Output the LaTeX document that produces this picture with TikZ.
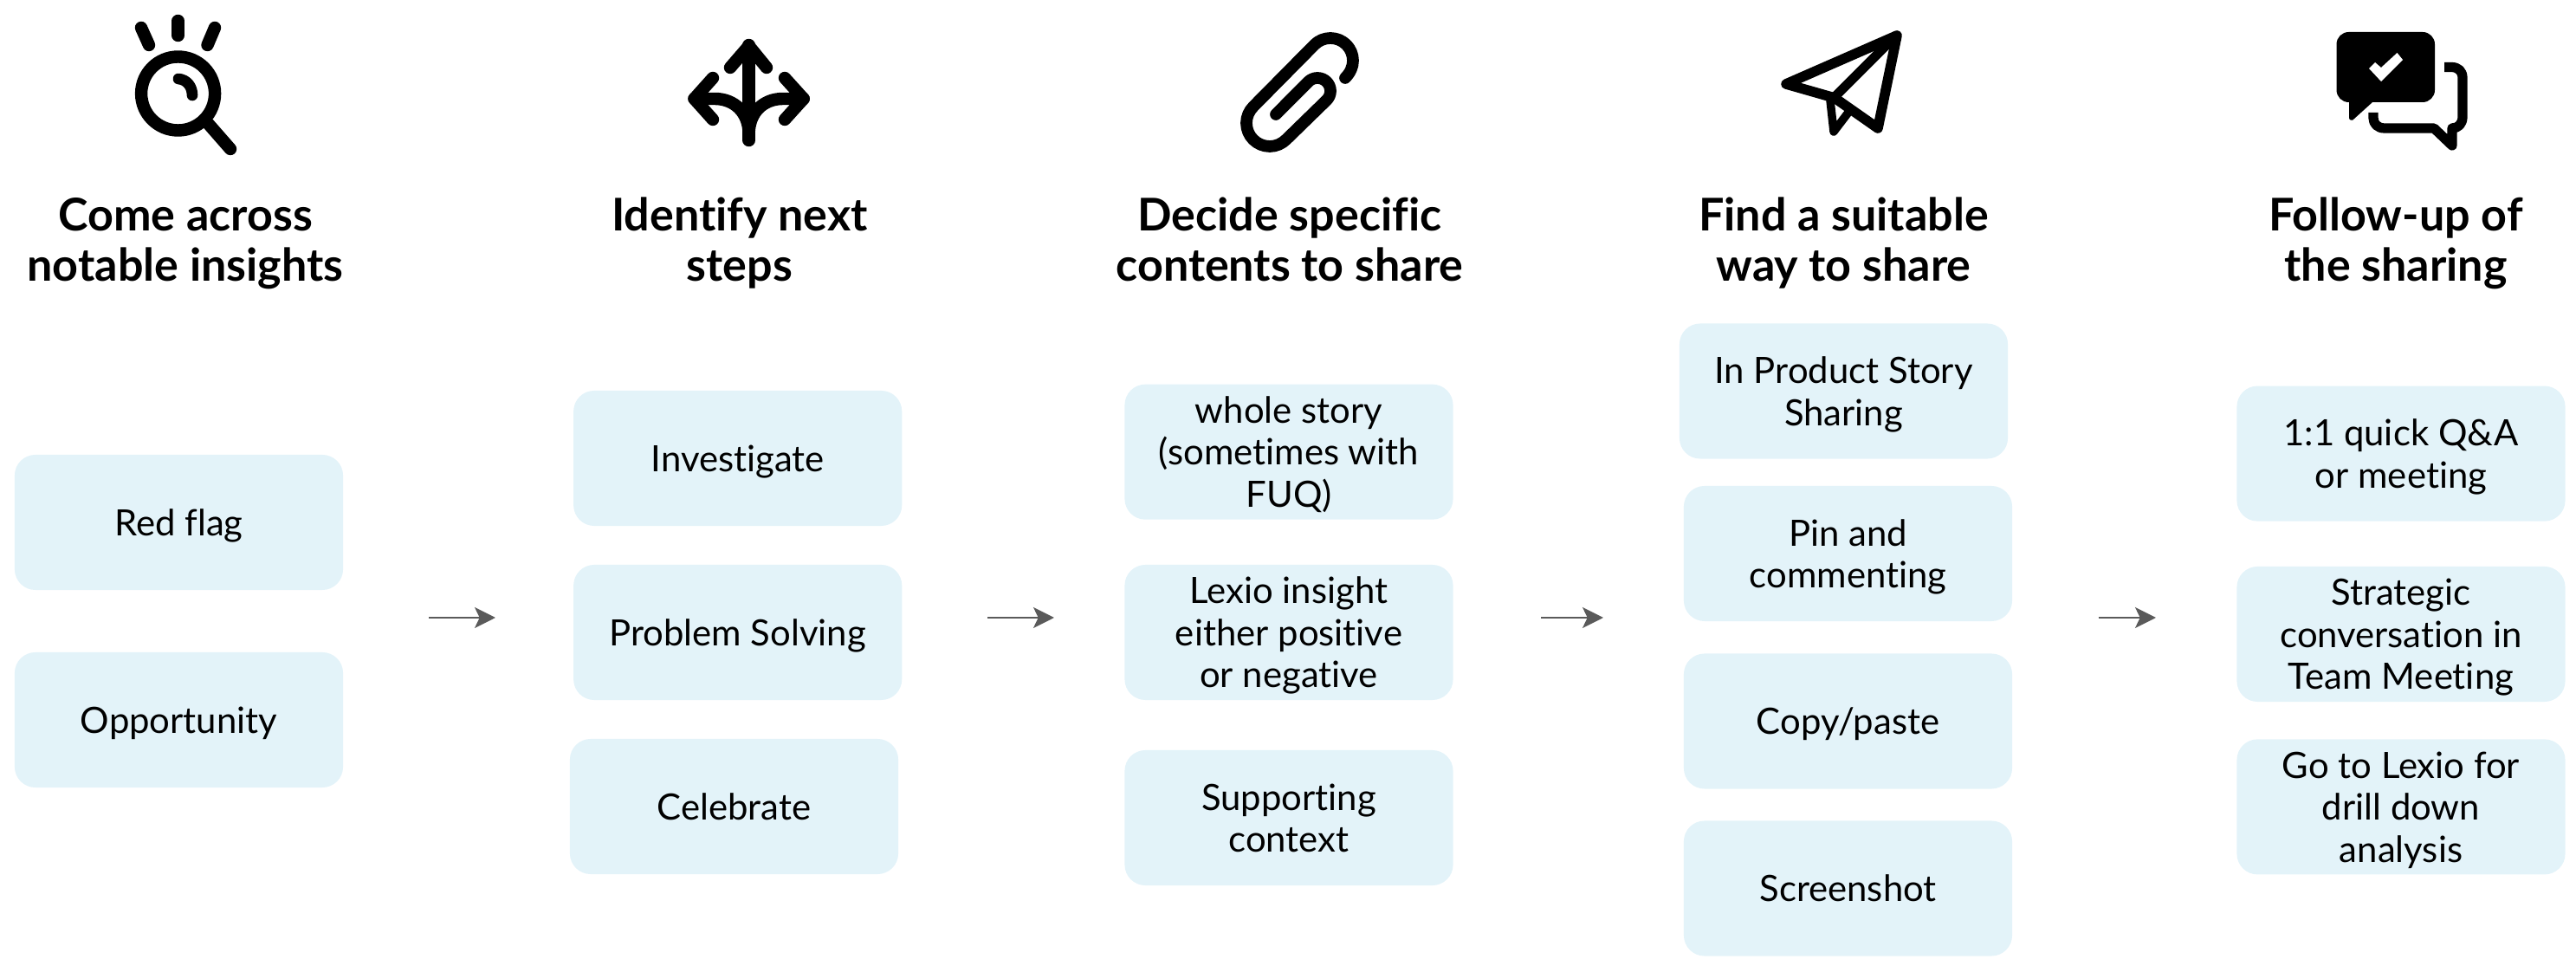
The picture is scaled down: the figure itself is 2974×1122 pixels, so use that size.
\documentclass[tikz,border=0pt]{standalone}
\usepackage{fontspec}
\setmainfont{Lato}[Ligatures=NoCommon]
\usetikzlibrary{arrows.meta}
\definecolor{boxblue}{HTML}{E3F3F9}
\definecolor{arrowgray}{HTML}{5A5A5A}
\tikzset{
  card/.style={fill=boxblue,rounded corners=6.8pt,minimum width=379*0.2845pt,minimum height=156*0.2845pt,inner sep=0pt,align=center,text=black,font=\fontsize{11.9}{13.75}\selectfont,text height=11.8pt,text depth=3pt},
  twolines/.style={text height=26.5pt,text depth=4pt},
  threelines/.style={text height=40.2pt,text depth=4pt},
  heading/.style={align=center,inner sep=0pt,text=black,font=\fontsize{14.8}{16.6}\selectfont\bfseries,text height=32pt,text depth=5pt},
  flow/.style={draw=arrowgray,line width=0.85pt,-{Stealth[length=6.8pt,width=6.8pt,inset=1.6pt]}},
  ink/.style={draw=black,line cap=round,line join=round,line width=4.1pt},
}
\begin{document}
\begin{tikzpicture}[x=0.01cm,y=-0.01cm]
\useasboundingbox (0,0) rectangle (2974,1122);
% headings
\node[heading] (h1) at (214,277) {Come across\\notable insights};
\node[heading] (h2) at (854,277) {Identify next\\steps};
\node[heading] (h3) at (1489,277) {Decide specific\\contents to share};
\node[heading] (h4) at (2128.5,277) {Find a suitable\\way to share};
\node[heading] (h5) at (2766,277) {Follow-up of\\the sharing};
% cards
\node[card] (a1) at (206.5,603) {Red flag};
\node[card] (a2) at (206.5,831) {Opportunity};
\node[card] (b1) at (851.7,529) {Investigate};
\node[card] (b2) at (851.7,730) {Problem Solving};
\node[card] (b3) at (847.5,931) {Celebrate};
\node[card,threelines] (c1) at (1488,521.7) {whole story\\(sometimes with\\FUQ)};
\node[card,threelines] (c2) at (1488,730) {Lexio insight\\either positive\\or negative};
\node[card,twolines] (c3) at (1488,944) {Supporting\\context};
\node[card,twolines] (d1) at (2128.5,451.5) {In Product Story\\Sharing};
\node[card,twolines] (d2) at (2133.5,639) {Pin and\\commenting};
\node[card] (d3) at (2133.5,832.5) {Copy/paste};
\node[card] (d4) at (2133.5,1025.5) {Screenshot};
\node[card,twolines] (e1) at (2772,523.6) {1:1 quick Q\&A\\or meeting};
\node[card,threelines] (e2) at (2772,732) {Strategic\\conversation in\\Team Meeting};
\node[card,threelines] (e3) at (2772,931.4) {Go to Lexio for\\drill down\\analysis};
% arrows
\coordinate (f1s) at (495,713); \coordinate (f1e) at (572,713);
\coordinate (f2s) at (1140,713); \coordinate (f2e) at (1217,713);
\coordinate (f3s) at (1779,713); \coordinate (f3e) at (1851,713);
\coordinate (f4s) at (2422.5,713); \coordinate (f4e) at (2489,713);
\draw[flow] (f1s) -- (f1e);
\draw[flow] (f2s) -- (f2e);
\draw[flow] (f3s) -- (f3e);
\draw[flow] (f4s) -- (f4e);
% icon 1: magnifier
\draw[ink] (205.6,108) circle [radius=42.5];
\draw[ink,line width=3.6pt] (206,91) .. controls (216,92) and (222,100) .. (222,110);
\draw[ink] (240.6,143) -- (266,172);
\draw[ink] (205.6,24) -- (205.6,41);
\draw[ink] (163,32) -- (172,52);
\draw[ink] (248,32) -- (239.5,52);
% icon 2: three-way arrow
\draw[ink] (864.6,52) -- (864.6,162);
\draw[ink] (843,78) -- (864.6,53) -- (885,78);
\draw[ink] (823,90) -- (801.5,114) -- (823,138);
\draw[ink] (906,90) -- (927.7,114) -- (906,138);
\draw[ink] (801.5,114) -- (825,114) .. controls (848,114) and (864.6,130) .. (864.6,155);
\draw[ink] (927.7,114) -- (904,114) .. controls (881,114) and (864.6,130) .. (864.6,155);
% icon 3: paperclip
\draw[ink,line width=3.9pt] (1553,90) .. controls (1559,84) and (1562,77) .. (1562,70)
  .. controls (1562,55.6) and (1550.4,44) .. (1536,44)
  .. controls (1529,44) and (1522.4,46.8) .. (1517.6,51.6)
  -- (1447,123)
  .. controls (1441.9,128.1) and (1439,135) .. (1439,142)
  .. controls (1439,157) and (1451,169) .. (1466,169)
  .. controls (1473,169) and (1480,166) .. (1485,161)
  -- (1531.6,115.6)
  .. controls (1534.5,112.7) and (1536,109) .. (1536,105)
  .. controls (1536,96.7) and (1529.3,90) .. (1521,90)
  .. controls (1517,90) and (1513.2,91.6) .. (1510.4,94.4)
  -- (1473,132);
% icon 4: paper plane
\draw[ink,line width=3.3pt] (2062,97) -- (2190,41) -- (2168,148) -- (2118,113) -- cycle;
\draw[ink,line width=3.1pt] (2189,41) -- (2119,111);
\draw[ink,line width=2.7pt] (2113,116) -- (2117,152) -- (2133,131);
% icon 5: chat
\fill[black,rounded corners=4pt] (2697.5,37) rectangle (2811,118);
\fill[black] (2712,110) -- (2712,136) .. controls (2712,139) and (2716,140) .. (2718,137) -- (2739,118) -- cycle;
\fill[white] (2735,79) -- (2749,94) -- (2774,69) -- (2767.5,61) -- (2749,78) -- (2742,72) -- cycle;
\draw[ink,line width=3.2pt,line cap=butt,line join=round] (2822,77.5) -- (2830,77.5) .. controls (2838,77.5) and (2843,82) .. (2843,90) -- (2843,135) .. controls (2843,143) and (2838,148) .. (2831,148) -- (2831,168) -- (2810,148) -- (2753,148) .. controls (2745,148) and (2740,143) .. (2740,136) -- (2740,130);
\end{tikzpicture}
\end{document}
